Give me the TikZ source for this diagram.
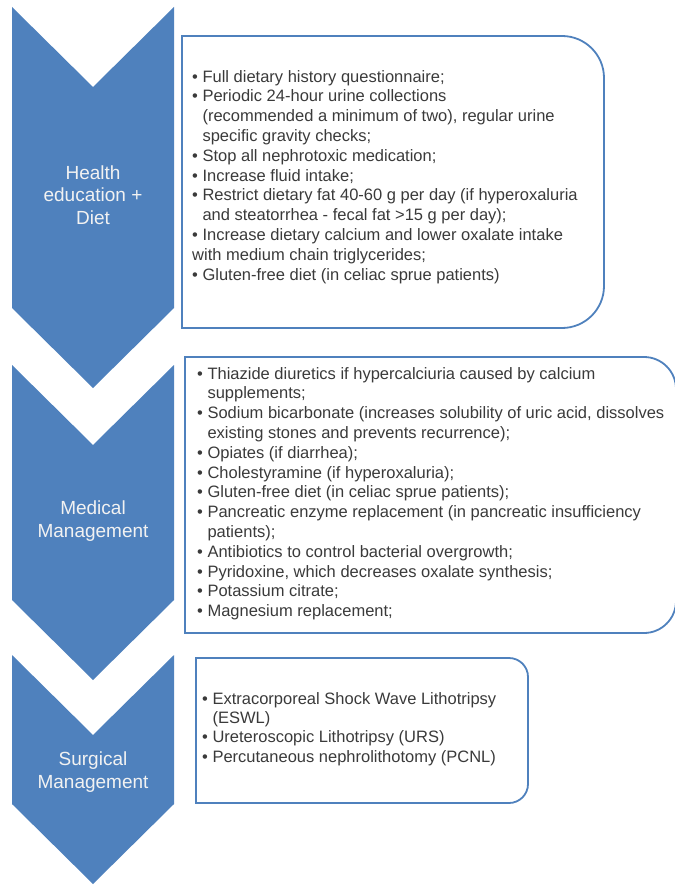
\documentclass[tikz,border=0pt]{standalone}
\usepackage{fontspec}
\setmainfont{Liberation Sans}
\usepackage{xcolor}
\usepackage{tikz}
\usetikzlibrary{positioning,calc}
\definecolor{chevblue}{HTML}{4F81BD}
\definecolor{panelblue}{HTML}{4F81BD}
\definecolor{itemgray}{HTML}{3A3A3A}
\definecolor{chevwhite}{HTML}{F2F2F2}
\newcommand{\ind}{\hphantom{•\ }}
\tikzset{
  chevron/.style={fill=chevblue,draw=none},
  chevlabel/.style={text=chevwhite,align=center,inner sep=0pt,font=\fontsize{19}{22.5}\selectfont},
  panel/.style={draw=panelblue,line width=1.8pt},
  itemlist/.style={anchor=north west,align=left,inner sep=0pt,text=itemgray,font=\fontsize{16.5}{19.8}\selectfont}
}

\begin{document}
\begin{tikzpicture}[x=1pt,y=-1pt]
  \useasboundingbox (0,0) rectangle (674,885);
  % chevrons down the left side
  \foreach \ya/\yb in {7/308, 365/600, 655/804}
    \fill[chevron] (12,\ya) -- (93,\ya+80) -- (174,\ya) -- (174,\yb) -- (93,\yb+80) -- (12,\yb) -- cycle;
  \node[chevlabel] (diet) at (93,195) {Health\\education +\\Diet};
  \node[chevlabel] (medical) at (93,521) {Medical\\Management};
  \node[chevlabel] (surgical) at (93,772) {Surgical\\Management};
  % panels, rounded on the right only
  \draw[panel] (182,36) -- (400,36) [rounded corners=42pt] -- (604,36) -- (604,328) -- (400,328) [sharp corners] -- (182,328) -- cycle;
  \draw[panel] (185,357) -- (420,357) [rounded corners=32pt] -- (676,357) -- (676,633) -- (420,633) [sharp corners] -- (185,633) -- cycle;
  \draw[panel] (196,658) -- (360,658) [rounded corners=19pt] -- (528,658) -- (528,803) -- (360,803) [sharp corners] -- (196,803) -- cycle;
  \node[itemlist] (dietlist) at (192,70) {%
    • Full dietary history questionnaire;\\
    • Periodic 24-hour urine collections\\
    \ind(recommended a minimum of two), regular urine\\
    \ind specific gravity checks;\\
    • Stop all nephrotoxic medication;\\
    • Increase fluid intake;\\
    • Restrict dietary fat 40-60 g per day (if hyperoxaluria\\
    \ind and steatorrhea - fecal fat >15 g per day);\\
    • Increase dietary calcium and lower oxalate intake\\
    with medium chain triglycerides;\\
    • Gluten-free diet (in celiac sprue patients)};
  \node[itemlist] (medlist) at (197,367) {%
    • Thiazide diuretics if hypercalciuria caused by calcium\\
    \ind supplements;\\
    • Sodium bicarbonate (increases solubility of uric acid, dissolves\\
    \ind existing stones and prevents recurrence);\\
    • Opiates (if diarrhea);\\
    • Cholestyramine (if hyperoxaluria);\\
    • Gluten-free diet (in celiac sprue patients);\\
    • Pancreatic enzyme replacement (in pancreatic insufficiency\\
    \ind patients);\\
    • Antibiotics to control bacterial overgrowth;\\
    • Pyridoxine, which decreases oxalate synthesis;\\
    • Potassium citrate;\\
    • Magnesium replacement;};
  \node[itemlist,font=\fontsize{16.5}{19.4}\selectfont] (surglist) at (202,692) {%
    • Extracorporeal Shock Wave Lithotripsy\\
    \ind(ESWL)\\
    • Ureteroscopic Lithotripsy (URS)\\
    • Percutaneous nephrolithotomy (PCNL)};
\end{tikzpicture}
\end{document}
